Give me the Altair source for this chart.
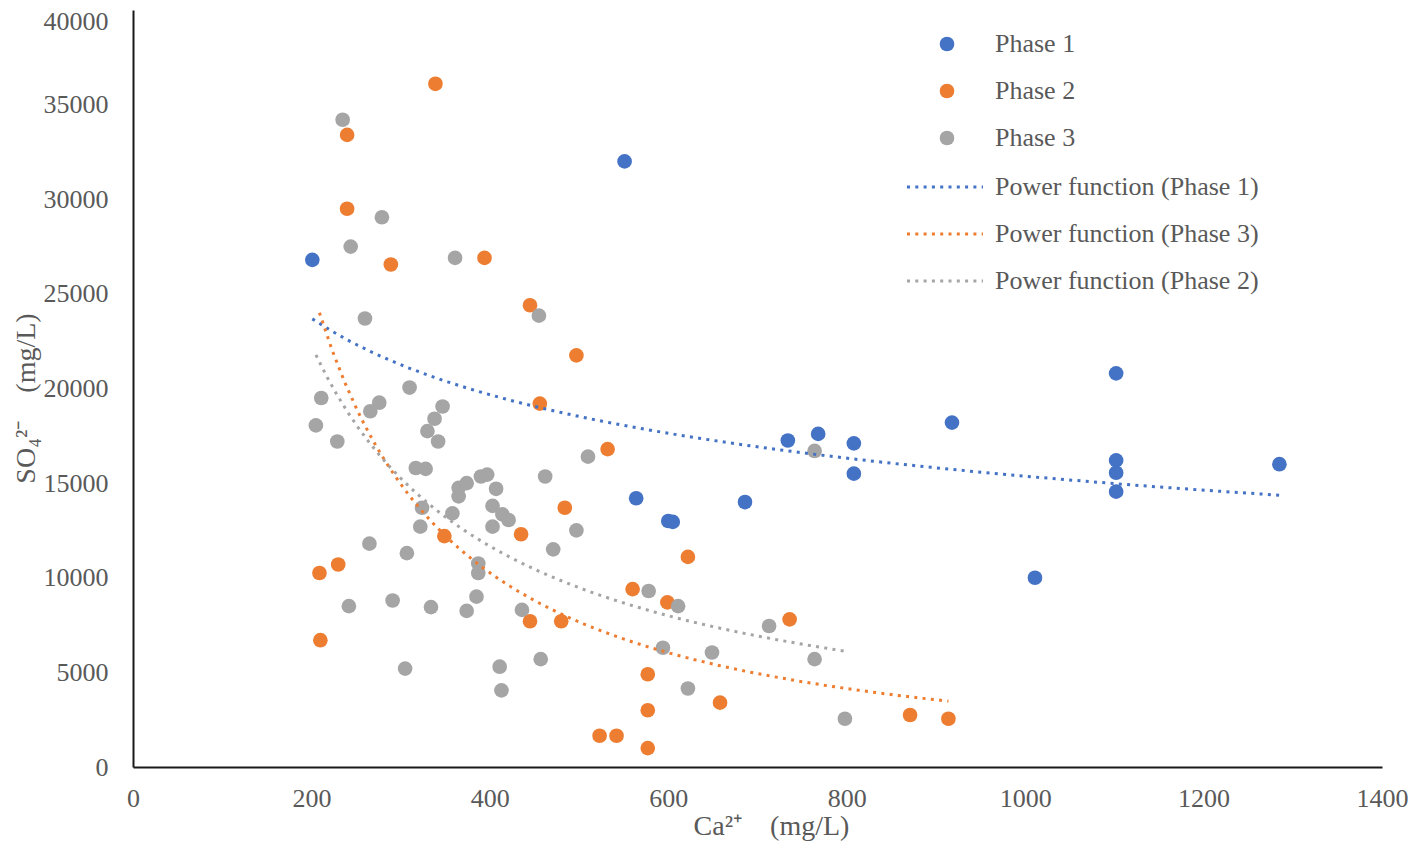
import altair as alt
import pandas as pd

# ---- data ----
phase1_ca = [201, 551, 564, 600, 605, 686, 734, 768, 808, 808, 918, 1011, 1102, 1102, 1102, 1102, 1285]
phase1_so4 = [26800, 32000, 14200, 13000, 12950, 14000, 17250, 17600, 17100, 15500, 18200, 10000,
              20800, 16200, 15550, 14550, 16000]

phase2_ca = [339, 240, 240, 289, 394, 445, 497, 456, 532, 484, 435, 349, 622, 560, 599, 445, 480,
             736, 209, 230, 210, 577, 577, 658, 523, 542, 577, 871, 914]
phase2_so4 = [36100, 33400, 29500, 26550, 26900, 24400, 21750, 19200, 16800, 13700, 12300, 12200,
              11100, 9400, 8700, 7700, 7700, 7800, 10250, 10700, 6700, 4900, 3000, 3400, 1650,
              1650, 1000, 2750, 2550]

phase3_ca = [235, 279, 244, 361, 260, 455, 310, 211, 276, 266, 205, 229, 347, 338, 330, 342, 317,
             328, 365, 374, 365, 390, 397, 407, 403, 414, 421, 403, 358, 324, 322, 265, 307, 387,
             387, 385, 242, 291, 334, 374, 436, 462, 510, 764, 497, 471, 578, 611, 713, 594, 649,
             764, 305, 411, 457, 413, 622, 798]
phase3_so4 = [34200, 29050, 27500, 26900, 23700, 23850, 20050, 19500, 19250, 18800, 18050, 17200,
              19050, 18400, 17750, 17200, 15800, 15750, 14750, 15000, 14300, 15350, 15450, 14700,
              13800, 13350, 13050, 12700, 13400, 13700, 12700, 11800, 11300, 10750, 10250, 9000,
              8500, 8800, 8450, 8250, 8300, 15350, 16400, 16700, 12500, 11500, 9300, 8500, 7450,
              6300, 6050, 5700, 5200, 5300, 5700, 4050, 4150, 2550]

phases = ["Phase 1", "Phase 2", "Phase 3"]
trends = ["Power function (Phase 1)", "Power function (Phase 3)", "Power function (Phase 2)"]
trend_of_phase = {"Phase 1": trends[0], "Phase 2": trends[1], "Phase 3": trends[2]}
colors = ["#4472C4", "#ED7D31", "#A5A5A5"]

x_ticks = [0, 200, 400, 600, 800, 1000, 1200, 1400]
y_ticks = [0, 5000, 10000, 15000, 20000, 25000, 30000, 35000, 40000]

x_title = "Ca²⁺\u00a0\u00a0\u00a0\u00a0(mg/L)"
y_title = "SO₄²⁻\u00a0\u00a0\u00a0\u00a0(mg/L)"

rows = []
for ph, xs_, ys_ in [("Phase 1", phase1_ca, phase1_so4),
                     ("Phase 2", phase2_ca, phase2_so4),
                     ("Phase 3", phase3_ca, phase3_so4)]:
    for xv, yv in zip(xs_, ys_):
        rows.append({"ca": xv, "so4": yv, "phase": ph, "trend": trend_of_phase[ph]})
df = pd.DataFrame(rows)

FONT = "Liberation Serif"
TXT = "#595959"

x_axis = alt.Axis(
    values=x_ticks, format="d", title=x_title,
    labelFont=FONT, labelFontSize=26, labelColor=TXT, labelPadding=18, labelFlush=False,
    ticks=False, tickSize=0, grid=False,
    domainColor="#1a1a1a", domainWidth=2,
    titleFont=FONT, titleFontSize=28, titleFontWeight="normal", titleColor=TXT,
    titleX=638, titleY=67, titleAlign="center", titleBaseline="alphabetic",
)
y_axis = alt.Axis(
    values=y_ticks, format="d", title=y_title,
    labelFont=FONT, labelFontSize=26, labelColor=TXT, labelPadding=25, labelFlush=False,
    labelBaseline={"condition": {"test": "datum.value == 40000", "value": "top"}, "value": "middle"},
    labelOffset={"condition": {"test": "datum.value == 40000", "value": -2}, "value": 0},
    ticks=False, tickSize=0, grid=False,
    domainColor="#1a1a1a", domainWidth=2,
    titleFont=FONT, titleFontSize=28, titleFontWeight="normal", titleColor=TXT,
    titleAngle=270, titleX=-99, titleY=388, titleAlign="center", titleBaseline="alphabetic",
)

xs = alt.Scale(domain=[0, 1400], nice=False, zero=False)
ys = alt.Scale(domain=[0, 40000], nice=False, zero=False)

points = alt.Chart(df).mark_circle(size=215, opacity=1).encode(
    x=alt.X("ca:Q", scale=xs, axis=x_axis),
    y=alt.Y("so4:Q", scale=ys, axis=y_axis),
    fill=alt.Fill("phase:N", scale=alt.Scale(domain=phases, range=colors),
                  legend=alt.Legend(orient="none", legendX=801, legendY=21, title=None,
                                    padding=0, labelFont=FONT, labelFontSize=26, labelColor=TXT,
                                    labelOffset=35, labelLimit=500, rowPadding=21,
                                    symbolType="circle", symbolSize=215, symbolStrokeWidth=0,
                                    symbolOpacity=1)),
)

lines = alt.Chart(df).transform_regression(
    "ca", "so4", method="pow", groupby=["trend"]
).mark_line(strokeWidth=3, strokeDash=[3, 5.3]).encode(
    x=alt.X("ca:Q", scale=xs),
    y=alt.Y("so4:Q", scale=ys),
    stroke=alt.Stroke("trend:N", scale=alt.Scale(domain=trends, range=colors),
                      legend=alt.Legend(orient="none", legendX=799, legendY=164, title=None,
                                        padding=0, labelFont=FONT, labelFontSize=26, labelColor=TXT,
                                        labelOffset=37, labelLimit=500, rowPadding=21,
                                        symbolType="M-4,0L4,0", symbolSize=361,
                                        symbolStrokeWidth=3, symbolDash=[3, 5.3],
                                        symbolOpacity=1)),
)

chart = alt.layer(points, lines).resolve_scale(fill="independent", stroke="independent").properties(
    width=1249, height=757,
    autosize=alt.AutoSizeParams(type="none"),
    padding={"left": 125, "top": 2, "right": 26, "bottom": 74},
    background="white",
).configure_view(stroke=None)

chart.save("out.html", embed_options={"renderer": "svg", "actions": False})
